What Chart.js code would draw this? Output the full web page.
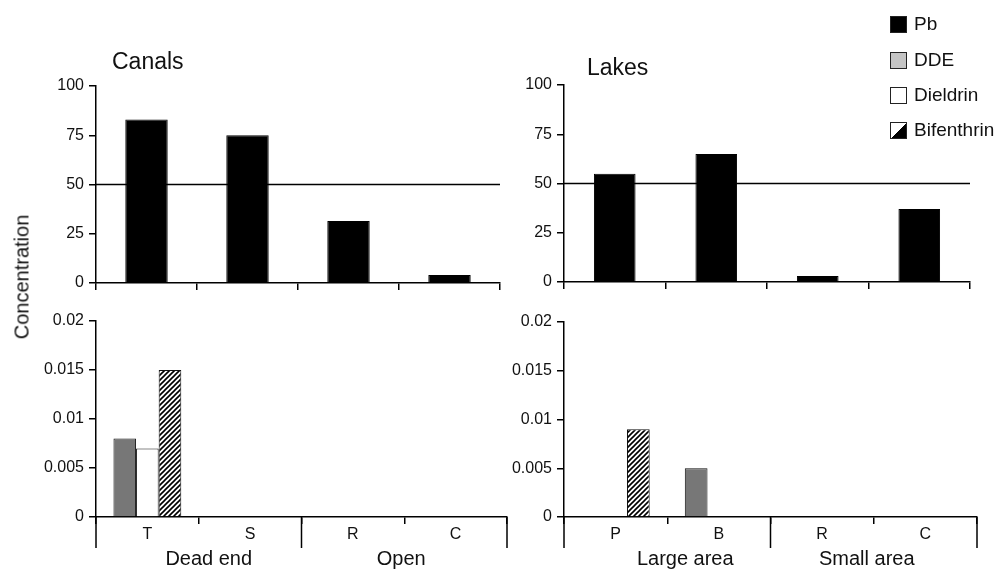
<!DOCTYPE html>
<html>
<head>
<meta charset="utf-8">
<script src="https://cdn.jsdelivr.net/npm/chart.js@4"></script>
<style>
  body { margin: 0; background: #fff; }
  #wrap { position: relative; width: 1000px; height: 570px; overflow: hidden; font-family: "Liberation Sans", Arial, sans-serif; color: #111; }
  canvas { position: absolute; }
  .title { position: absolute; font-size: 23px; }
  .ytitle { position: absolute; left: 22px; top: 277px; font-size: 20px; transform: translate(-50%, -50%) rotate(-90deg); white-space: nowrap; }
  .leg { position: absolute; left: 890px; font-size: 19px; display: flex; align-items: center; }
  .sw { width: 15px; height: 15px; border: 1.5px solid #222; margin-right: 7px; }
</style>
</head>
<body>
<div id="wrap">
  <canvas id="canalPbChart" width="520" height="300" style="left:0;top:0"></canvas>
  <canvas id="lakePbChart" width="500" height="300" style="left:500px;top:0"></canvas>
  <canvas id="canalPestChart" width="530" height="270" style="left:0;top:300px"></canvas>
  <canvas id="lakePestChart" width="500" height="270" style="left:500px;top:300px"></canvas>

  <div class="title" style="left:112px;top:48px">Canals</div>
  <div class="title" style="left:587px;top:54px">Lakes</div>
  <div class="ytitle">Concentration</div>

  <div class="leg" style="top:13px"><div class="sw" style="background:#000"></div>Pb</div>
  <div class="leg" style="top:49px"><div class="sw" style="background:#c4c4c4"></div>DDE</div>
  <div class="leg" style="top:84px"><div class="sw" style="background:#fff"></div>Dieldrin</div>
  <div class="leg" style="top:119px"><div class="sw" style="background:linear-gradient(to bottom right,#fff 50%,#000 50%)"></div>Bifenthrin</div>
</div>

<script>
// sites and groups
const canalSites = ["T", "S", "R", "C"];
const lakeSites = ["P", "B", "R", "C"];
const canalGroups = ["Dead end", "Open"];
const lakeGroups = ["Large area", "Small area"];

// Pb (top panels)
const canalPb = [83, 75, 31.5, 4];
const lakePb = [55, 65, 3, 37];
const pbLimit = 50;

// pesticides (bottom panels)
const canalDDE = [0.008, 0, 0, 0];
const canalDieldrin = [0.007, 0, 0, 0];
const canalBifenthrin = [0.015, 0, 0, 0];
const lakeDDE = [0, 0.005, 0, 0];
const lakeDieldrin = [0, 0, 0, 0];
const lakeBifenthrin = [0.009, 0, 0, 0];

// tick labels
const pbTicks = [0, 25, 50, 75, 100];
const pbTickLabels = ["0", "25", "50", "75", "100"];
const concTicks = [0, 0.005, 0.01, 0.015, 0.02];
const concTickLabels = ["0", "0.005", "0.01", "0.015", "0.02"];

const FONT = "'Liberation Sans', Arial, sans-serif";

function hatch() {
  const c = document.createElement("canvas");
  c.width = 5; c.height = 5;
  const g = c.getContext("2d");
  g.fillStyle = "#fff";
  g.fillRect(0, 0, 5, 5);
  g.strokeStyle = "#000";
  g.lineWidth = 1.6;
  g.beginPath();
  g.moveTo(-1, 6); g.lineTo(6, -1);
  g.moveTo(-1, 1); g.lineTo(1, -1);
  g.moveTo(4, 6); g.lineTo(6, 4);
  g.stroke();
  return g.createPattern(c, "repeat");
}

// horizontal limit line at pbLimit
const limitLine = {
  id: "limitLine",
  beforeDatasetsDraw(chart) {
    const y = chart.scales.y.getPixelForValue(pbLimit);
    const a = chart.chartArea;
    const ctx = chart.ctx;
    ctx.save();
    ctx.strokeStyle = "#000";
    ctx.lineWidth = 1.5;
    ctx.beginPath();
    ctx.moveTo(a.left, y);
    ctx.lineTo(a.right, y);
    ctx.stroke();
    ctx.restore();
  }
};

// long dividers and group names under the bottom panels
const groupAxis = {
  id: "groupAxis",
  afterDraw(chart, args, opts) {
    const x = chart.scales.x;
    const ctx = chart.ctx;
    const n = chart.data.labels.length;
    const per = n / opts.groups.length;
    const edge = function (i) {
      if (i === 0) return x.left;
      if (i === n) return x.right;
      return (x.getPixelForValue(i - 1) + x.getPixelForValue(i)) / 2;
    };
    const bottom = chart.chartArea.bottom;
    ctx.save();
    ctx.strokeStyle = "#000";
    ctx.lineWidth = 1.5;
    for (let g = 0; g <= opts.groups.length; g++) {
      const px = edge(g * per);
      ctx.beginPath();
      ctx.moveTo(px, bottom);
      ctx.lineTo(px, bottom + 31);
      ctx.stroke();
    }
    ctx.fillStyle = "#111";
    ctx.font = "20px " + FONT;
    ctx.textAlign = "center";
    ctx.textBaseline = "alphabetic";
    opts.groups.forEach(function (name, g) {
      const cx = (edge(g * per) + edge((g + 1) * per)) / 2 + (opts.nudge[g] || 0);
      ctx.fillText(name, cx, bottom + 48);
    });
    ctx.restore();
  }
};

function makeOpts(cfg) {
  return {
    responsive: false,
    animation: false,
    layout: { padding: { left: 0, top: cfg.top, right: cfg.right, bottom: 0 } },
    plugins: {
      legend: { display: false },
      tooltip: { enabled: false },
      groupAxis: { groups: cfg.groups || [], nudge: cfg.nudge || [] }
    },
    scales: {
      x: {
        afterFit: function (s) { s.height = cfg.xh; },
        border: { display: true, color: "#000", width: 1.5 },
        grid: { offset: true, drawOnChartArea: false, drawTicks: true, tickLength: 7, color: "#000", lineWidth: 1.5 },
        ticks: { display: cfg.showLabels, color: "#111", padding: 1, font: { family: FONT, size: 16 } }
      },
      y: {
        min: cfg.ticks[0],
        max: cfg.ticks[cfg.ticks.length - 1],
        afterBuildTicks: function (s) { s.ticks = cfg.ticks.map(function (v) { return { value: v }; }); },
        afterFit: function (s) { s.width = cfg.yw; },
        border: { display: true, color: "#000", width: 1.5 },
        grid: { drawOnChartArea: false, drawTicks: true, tickLength: 7, color: "#000", lineWidth: 1.5 },
        ticks: {
          color: "#111",
          padding: 5,
          font: { family: FONT, size: 16 },
          callback: function (v, i) { return cfg.labels[i]; }
        }
      }
    }
  };
}

document.addEventListener("DOMContentLoaded", function () {
  const stripes = hatch();

  new Chart(document.getElementById("canalPbChart"), {
    type: "bar",
    data: {
      labels: canalSites,
      datasets: [{ label: "Pb", data: canalPb, backgroundColor: "#000", borderColor: "#000", borderWidth: 1, categoryPercentage: 1, barPercentage: 0.42 }]
    },
    options: makeOpts({ top: 86, right: 20, xh: 17, yw: 96, showLabels: false, ticks: pbTicks, labels: pbTickLabels }),
    plugins: [limitLine]
  });

  new Chart(document.getElementById("lakePbChart"), {
    type: "bar",
    data: {
      labels: lakeSites,
      datasets: [{ label: "Pb", data: lakePb, backgroundColor: "#000", borderColor: "#000", borderWidth: 1, categoryPercentage: 1, barPercentage: 0.41 }]
    },
    options: makeOpts({ top: 85, right: 30, xh: 18, yw: 64, showLabels: false, ticks: pbTicks, labels: pbTickLabels }),
    plugins: [limitLine]
  });

  function pestSets(dde, dieldrin, bif) {
    const common = { borderColor: "#111", borderWidth: 1, categoryPercentage: 0.66, barPercentage: 1 };
    return [
      Object.assign({ label: "DDE", data: dde, backgroundColor: "#777777" }, common),
      Object.assign({ label: "Dieldrin", data: dieldrin, backgroundColor: "#ffffff" }, common),
      Object.assign({ label: "Bifenthrin", data: bif, backgroundColor: stripes }, common)
    ];
  }

  new Chart(document.getElementById("canalPestChart"), {
    type: "bar",
    data: { labels: canalSites, datasets: pestSets(canalDDE, canalDieldrin, canalBifenthrin) },
    options: makeOpts({ top: 21, right: 23, xh: 53, yw: 96, showLabels: true, ticks: concTicks, labels: concTickLabels, groups: canalGroups, nudge: [10, -3] }),
    plugins: [groupAxis]
  });

  new Chart(document.getElementById("lakePestChart"), {
    type: "bar",
    data: { labels: lakeSites, datasets: pestSets(lakeDDE, lakeDieldrin, lakeBifenthrin) },
    options: makeOpts({ top: 22, right: 23, xh: 53, yw: 64, showLabels: true, ticks: concTicks, labels: concTickLabels, groups: lakeGroups, nudge: [18, -7] }),
    plugins: [groupAxis]
  });
});
</script>
</body>
</html>
